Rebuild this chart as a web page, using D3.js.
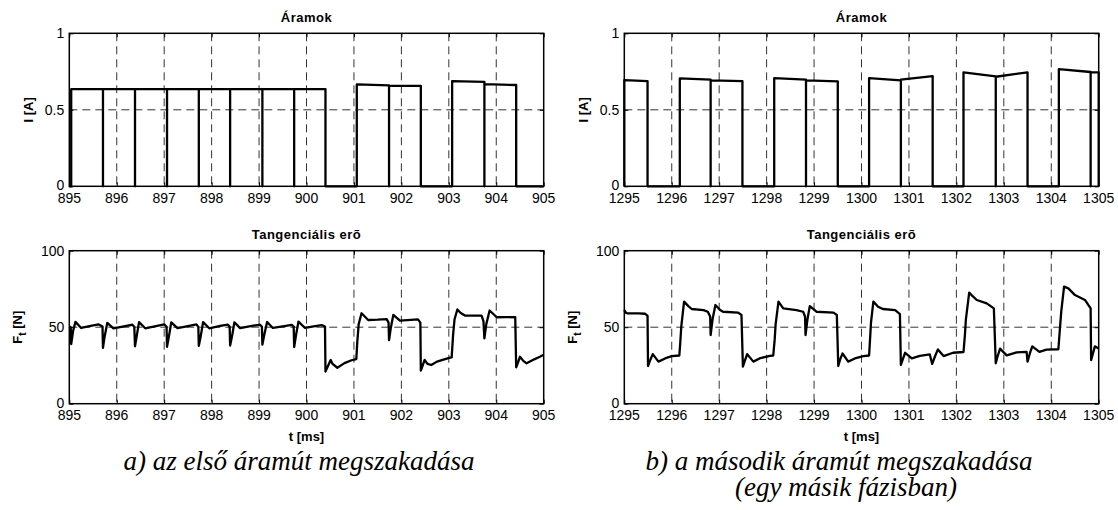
<!DOCTYPE html>
<html>
<head>
<meta charset="utf-8">
<script src="https://cdn.jsdelivr.net/npm/d3@7"></script>
<style>
  body { margin: 0; background: #fff; }
  .tick-label { font-family: "Liberation Sans", Arial, sans-serif; font-size: 14px; fill: #000; }
  .axis-title { font-family: "Liberation Sans", Arial, sans-serif; font-size: 13px; font-weight: bold; fill: #000; }
  .plot-title { font-family: "Liberation Sans", Arial, sans-serif; font-size: 13px; font-weight: bold; letter-spacing: 0.5px; fill: #000; }
  .caption { font-family: "Liberation Serif", "Times New Roman", serif; font-style: italic; font-size: 27px; fill: #000; }
</style>
</head>
<body>
<div id="chart"></div>
<script>
// tick labels
var leftTimeTicks = [895, 896, 897, 898, 899, 900, 901, 902, 903, 904, 905];
var rightTimeTicks = [1295, 1296, 1297, 1298, 1299, 1300, 1301, 1302, 1303, 1304, 1305];
var currentTicks = [0, 0.5, 1];
var forceTicks = [0, 50, 100];

// current pulses: [start, end, level at start, level at end]
var leftCurrentPulses = [
    [895.04, 895.71, 0.635, 0.635],
    [895.71, 896.385, 0.635, 0.635],
    [896.385, 897.06, 0.635, 0.635],
    [897.06, 897.73, 0.635, 0.635],
    [897.73, 898.39, 0.635, 0.635],
    [898.39, 899.07, 0.635, 0.635],
    [899.07, 899.74, 0.635, 0.635],
    [899.74, 900.40, 0.635, 0.635],
    [901.06, 901.74, 0.666, 0.660],
    [901.74, 902.41, 0.657, 0.657],
    [903.07, 903.75, 0.688, 0.682],
    [903.75, 904.42, 0.668, 0.662]
];
var rightCurrentPulses = [
    [1295.00, 1295.49, 0.694, 0.688],
    [1296.17, 1296.82, 0.705, 0.697],
    [1296.82, 1297.49, 0.692, 0.688],
    [1298.16, 1298.83, 0.707, 0.697],
    [1298.83, 1299.50, 0.692, 0.686],
    [1300.16, 1300.83, 0.707, 0.692],
    [1300.83, 1301.50, 0.697, 0.720],
    [1302.15, 1302.83, 0.745, 0.718],
    [1302.83, 1303.50, 0.716, 0.745],
    [1304.16, 1304.83, 0.766, 0.747],
    [1304.83, 1305.00, 0.745, 0.745]
];

// tangential force [t, F]
var leftForce = [
    [895.00, 50.5], [895.03, 50.0], [895.04, 39.0], [895.08, 47.5], [895.13, 53.5], [895.25, 49.5],
    [895.45, 50.8], [895.62, 51.8], [895.70, 50.5], [895.71, 36.5], [895.74, 43.0], [895.80, 52.8],
    [895.93, 49.2], [896.15, 50.6], [896.33, 51.6], [896.37, 50.3], [896.385, 37.5], [896.42, 44.0],
    [896.47, 53.3], [896.60, 49.3], [896.85, 50.8], [897.00, 51.8], [897.05, 50.3], [897.06, 37.2],
    [897.10, 44.0], [897.15, 53.2], [897.28, 49.4], [897.50, 50.7], [897.68, 51.8], [897.72, 50.2],
    [897.73, 37.8], [897.77, 44.0], [897.82, 53.3], [897.95, 49.3], [898.18, 50.8], [898.34, 51.7],
    [898.38, 50.4], [898.39, 38.0], [898.43, 44.0], [898.48, 53.2], [898.60, 49.4], [898.85, 50.9],
    [899.02, 51.6], [899.06, 50.3], [899.07, 38.6], [899.11, 45.0], [899.17, 53.4], [899.29, 49.5],
    [899.50, 50.6], [899.69, 51.5], [899.73, 50.4], [899.74, 37.0], [899.78, 45.0], [899.83, 53.6],
    [899.97, 49.5], [900.15, 50.6], [900.32, 51.4], [900.39, 50.4], [900.40, 21.0], [900.45, 24.5],
    [900.51, 28.6], [900.55, 26.0], [900.65, 23.5], [900.80, 26.5], [900.95, 28.4], [901.05, 29.2],
    [901.07, 40.0], [901.10, 52.0], [901.16, 59.1], [901.30, 54.7], [901.50, 54.9], [901.69, 55.3],
    [901.73, 53.0], [901.74, 41.5], [901.78, 50.0], [901.83, 58.0], [901.97, 54.3], [902.20, 54.8],
    [902.35, 55.1], [902.40, 53.0], [902.41, 21.6], [902.45, 25.0], [902.49, 28.6], [902.55, 26.0],
    [902.63, 25.3], [902.75, 27.5], [902.99, 29.8], [903.06, 30.2], [903.09, 45.0], [903.12, 55.0],
    [903.18, 61.6], [903.25, 59.3], [903.34, 57.6], [903.69, 57.6], [903.73, 54.0], [903.75, 42.7],
    [903.79, 52.0], [903.86, 60.9], [904.01, 56.5], [904.20, 56.6], [904.40, 56.5], [904.42, 23.8],
    [904.46, 27.0], [904.50, 30.7], [904.57, 28.0], [904.64, 26.4], [904.80, 29.0], [904.92, 30.7],
    [905.00, 32.0]
];
var rightForce = [
    [1295.00, 61.2], [1295.03, 59.5], [1295.06, 59.1], [1295.30, 59.0], [1295.44, 58.8], [1295.49, 57.4],
    [1295.50, 24.6], [1295.54, 28.0], [1295.60, 32.4], [1295.72, 27.5], [1295.86, 29.6], [1296.00, 31.1],
    [1296.16, 31.5], [1296.18, 40.0], [1296.20, 50.0], [1296.26, 66.7], [1296.35, 63.8], [1296.42, 61.9],
    [1296.67, 61.2], [1296.76, 60.1], [1296.81, 57.0], [1296.82, 44.9], [1296.86, 55.0], [1296.92, 64.5],
    [1297.02, 61.2], [1297.08, 60.1], [1297.40, 59.5], [1297.47, 58.0], [1297.50, 24.2], [1297.54, 28.0],
    [1297.59, 32.4], [1297.72, 27.5], [1297.85, 29.6], [1298.07, 31.3], [1298.14, 31.5], [1298.17, 42.0],
    [1298.19, 52.0], [1298.25, 66.7], [1298.35, 62.3], [1298.63, 61.2], [1298.77, 60.1], [1298.81, 57.0],
    [1298.82, 44.9], [1298.86, 55.0], [1298.91, 63.8], [1299.05, 60.1], [1299.41, 59.5], [1299.48, 58.0],
    [1299.51, 24.6], [1299.55, 29.0], [1299.60, 32.8], [1299.72, 27.5], [1299.86, 29.6], [1300.04, 31.1],
    [1300.16, 31.5], [1300.18, 42.0], [1300.20, 53.0], [1300.25, 66.7], [1300.35, 63.4], [1300.45, 61.9],
    [1300.71, 61.2], [1300.81, 58.6], [1300.83, 25.3], [1300.87, 29.0], [1300.92, 33.3], [1301.06, 29.6],
    [1301.23, 31.3], [1301.44, 32.2], [1301.49, 26.0], [1301.55, 31.0], [1301.61, 35.5], [1301.73, 31.1],
    [1301.93, 33.3], [1302.15, 33.8], [1302.18, 45.0], [1302.20, 55.0], [1302.27, 72.6], [1302.32, 71.0],
    [1302.43, 67.8], [1302.64, 65.6], [1302.79, 62.3], [1302.83, 26.4], [1302.87, 31.0], [1302.92, 36.0],
    [1303.06, 31.6], [1303.27, 33.5], [1303.48, 33.9], [1303.50, 27.5], [1303.55, 33.0], [1303.60, 37.5],
    [1303.75, 33.9], [1303.90, 35.4], [1304.15, 35.6], [1304.18, 48.0], [1304.21, 60.0], [1304.27, 76.5],
    [1304.36, 75.4], [1304.50, 71.0], [1304.71, 67.8], [1304.83, 62.3], [1304.84, 28.5], [1304.88, 33.0],
    [1304.92, 37.5], [1305.00, 36.0]
];

var svgWidth = 1118;
var svgHeight = 510;

var plotWidth = 474.4;
var plotHeight = 153;
var leftX = 69.3;
var rightX = 624.3;
var topY = 33.3;
var bottomY = 250.7;

var svg = d3.select("#chart")
    .append("svg")
    .attr("width", svgWidth)
    .attr("height", svgHeight);

// turn the pulse list into a polyline going 0 -> level -> 0 for each pulse
function pulsePoints(pulses, domain) {
    var pts = [[domain[0], 0]];
    pulses.forEach(function(p) {
        pts.push([p[0], 0], [p[0], p[2]], [p[1], p[3]], [p[1], 0]);
    });
    pts.push([domain[1], 0]);
    return pts;
}

function drawPanel(opts) {
    var g = svg.append("g")
        .attr("transform", `translate(${opts.x}, ${opts.y})`);

    var xScale = d3.scaleLinear().domain(opts.xDomain).range([0, plotWidth]);
    var yScale = d3.scaleLinear().domain(opts.yDomain).range([plotHeight, 0]);

    // dashed grid
    g.append("g").selectAll("line")
        .data(opts.xTicks.slice(1, -1))
        .enter()
        .append("line")
        .attr("x1", d => xScale(d)).attr("x2", d => xScale(d))
        .attr("y1", 0).attr("y2", plotHeight)
        .attr("stroke", "#333")
        .attr("stroke-width", 1)
        .attr("stroke-dasharray", "8,5");
    g.append("g").selectAll("line")
        .data(opts.yTicks.slice(1, -1))
        .enter()
        .append("line")
        .attr("x1", 0).attr("x2", plotWidth)
        .attr("y1", d => yScale(d)).attr("y2", d => yScale(d))
        .attr("stroke", "#333")
        .attr("stroke-width", 1)
        .attr("stroke-dasharray", "8,5");

    // axes (inward ticks, labels drawn separately)
    var bottomAxis = d3.axisBottom(xScale).tickValues(opts.xTicks).tickSize(-4).tickFormat("");
    var topAxis = d3.axisTop(xScale).tickValues(opts.xTicks).tickSize(-4).tickFormat("");
    var leftAxis = d3.axisLeft(yScale).tickValues(opts.yTicks).tickSize(-4).tickFormat("");
    var rightAxis = d3.axisRight(yScale).tickValues(opts.yTicks).tickSize(-4).tickFormat("");
    [
        [bottomAxis, `translate(0, ${plotHeight})`],
        [topAxis, "translate(0, 0)"],
        [leftAxis, "translate(0, 0)"],
        [rightAxis, `translate(${plotWidth}, 0)`]
    ].forEach(function(a) {
        var ax = g.append("g").attr("transform", a[1]).call(a[0]);
        ax.select(".domain").remove();
        ax.selectAll("line").attr("stroke", "#000").attr("stroke-width", 1);
    });

    // tick labels
    g.append("g").selectAll("text")
        .data(opts.xTicks)
        .enter()
        .append("text")
        .attr("class", "tick-label")
        .attr("x", d => xScale(d))
        .attr("y", plotHeight + 16.5)
        .attr("text-anchor", "middle")
        .text(d => d);
    g.append("g").selectAll("text")
        .data(opts.yTicks)
        .enter()
        .append("text")
        .attr("class", "tick-label")
        .attr("x", -5)
        .attr("y", d => yScale(d) - (d === opts.yTicks[0] ? 1 : 0))
        .attr("dy", "0.36em")
        .attr("text-anchor", "end")
        .text(d => d);

    // data line
    var line = d3.line()
        .x(d => xScale(d[0]))
        .y(d => yScale(d[1]));
    g.append("path")
        .datum(opts.points)
        .attr("d", line)
        .attr("fill", "none")
        .attr("stroke", "#000")
        .attr("stroke-width", 2.3)
        .attr("stroke-linejoin", "round");

    // box
    g.append("rect")
        .attr("width", plotWidth)
        .attr("height", plotHeight)
        .attr("fill", "none")
        .attr("stroke", "#000")
        .attr("stroke-width", 1.5);

    // title
    g.append("text")
        .attr("class", "plot-title")
        .attr("x", plotWidth / 2)
        .attr("y", -11.5)
        .attr("text-anchor", "middle")
        .text(opts.title);

    // y label
    var yl = g.append("text")
        .attr("class", "axis-title")
        .attr("transform", `translate(${opts.yLabelX}, ${plotHeight / 2}) rotate(-90)`)
        .attr("text-anchor", "middle");
    if (opts.sub) {
        yl.append("tspan").text(opts.yLabel);
        yl.append("tspan").attr("dy", 4).attr("font-size", 10).text(opts.sub);
        yl.append("tspan").attr("dy", -4).text(opts.yLabelRest);
    } else {
        yl.text(opts.yLabel);
    }

    if (opts.xLabel) {
        g.append("text")
            .attr("class", "axis-title")
            .attr("x", plotWidth / 2)
            .attr("y", plotHeight + 37)
            .attr("text-anchor", "middle")
            .text(opts.xLabel);
    }
}

drawPanel({
    x: leftX, y: topY, xDomain: [895, 905], yDomain: [0, 1],
    xTicks: leftTimeTicks, yTicks: currentTicks,
    points: pulsePoints(leftCurrentPulses, [895, 905]),
    title: "Áramok", yLabel: "I [A]", yLabelX: -36
});
drawPanel({
    x: rightX, y: topY, xDomain: [1295, 1305], yDomain: [0, 1],
    xTicks: rightTimeTicks, yTicks: currentTicks,
    points: pulsePoints(rightCurrentPulses, [1295, 1305]),
    title: "Áramok", yLabel: "I [A]", yLabelX: -36
});
drawPanel({
    x: leftX, y: bottomY, xDomain: [895, 905], yDomain: [0, 100],
    xTicks: leftTimeTicks, yTicks: forceTicks,
    points: leftForce,
    title: "Tangenciális erõ", yLabel: "F", sub: "t", yLabelRest: " [N]", yLabelX: -47,
    xLabel: "t [ms]"
});
drawPanel({
    x: rightX, y: bottomY, xDomain: [1295, 1305], yDomain: [0, 100],
    xTicks: rightTimeTicks, yTicks: forceTicks,
    points: rightForce,
    title: "Tangenciális erõ", yLabel: "F", sub: "t", yLabelRest: " [N]", yLabelX: -47,
    xLabel: "t [ms]"
});

// captions
svg.append("text")
    .attr("class", "caption")
    .attr("x", 299)
    .attr("y", 470)
    .attr("text-anchor", "middle")
    .text("a) az első áramút megszakadása");
svg.append("text")
    .attr("class", "caption")
    .attr("x", 839)
    .attr("y", 470)
    .attr("text-anchor", "middle")
    .text("b) a második áramút megszakadása");
svg.append("text")
    .attr("class", "caption")
    .attr("x", 846)
    .attr("y", 496)
    .attr("text-anchor", "middle")
    .text("(egy másik fázisban)");
</script>
</body>
</html>
